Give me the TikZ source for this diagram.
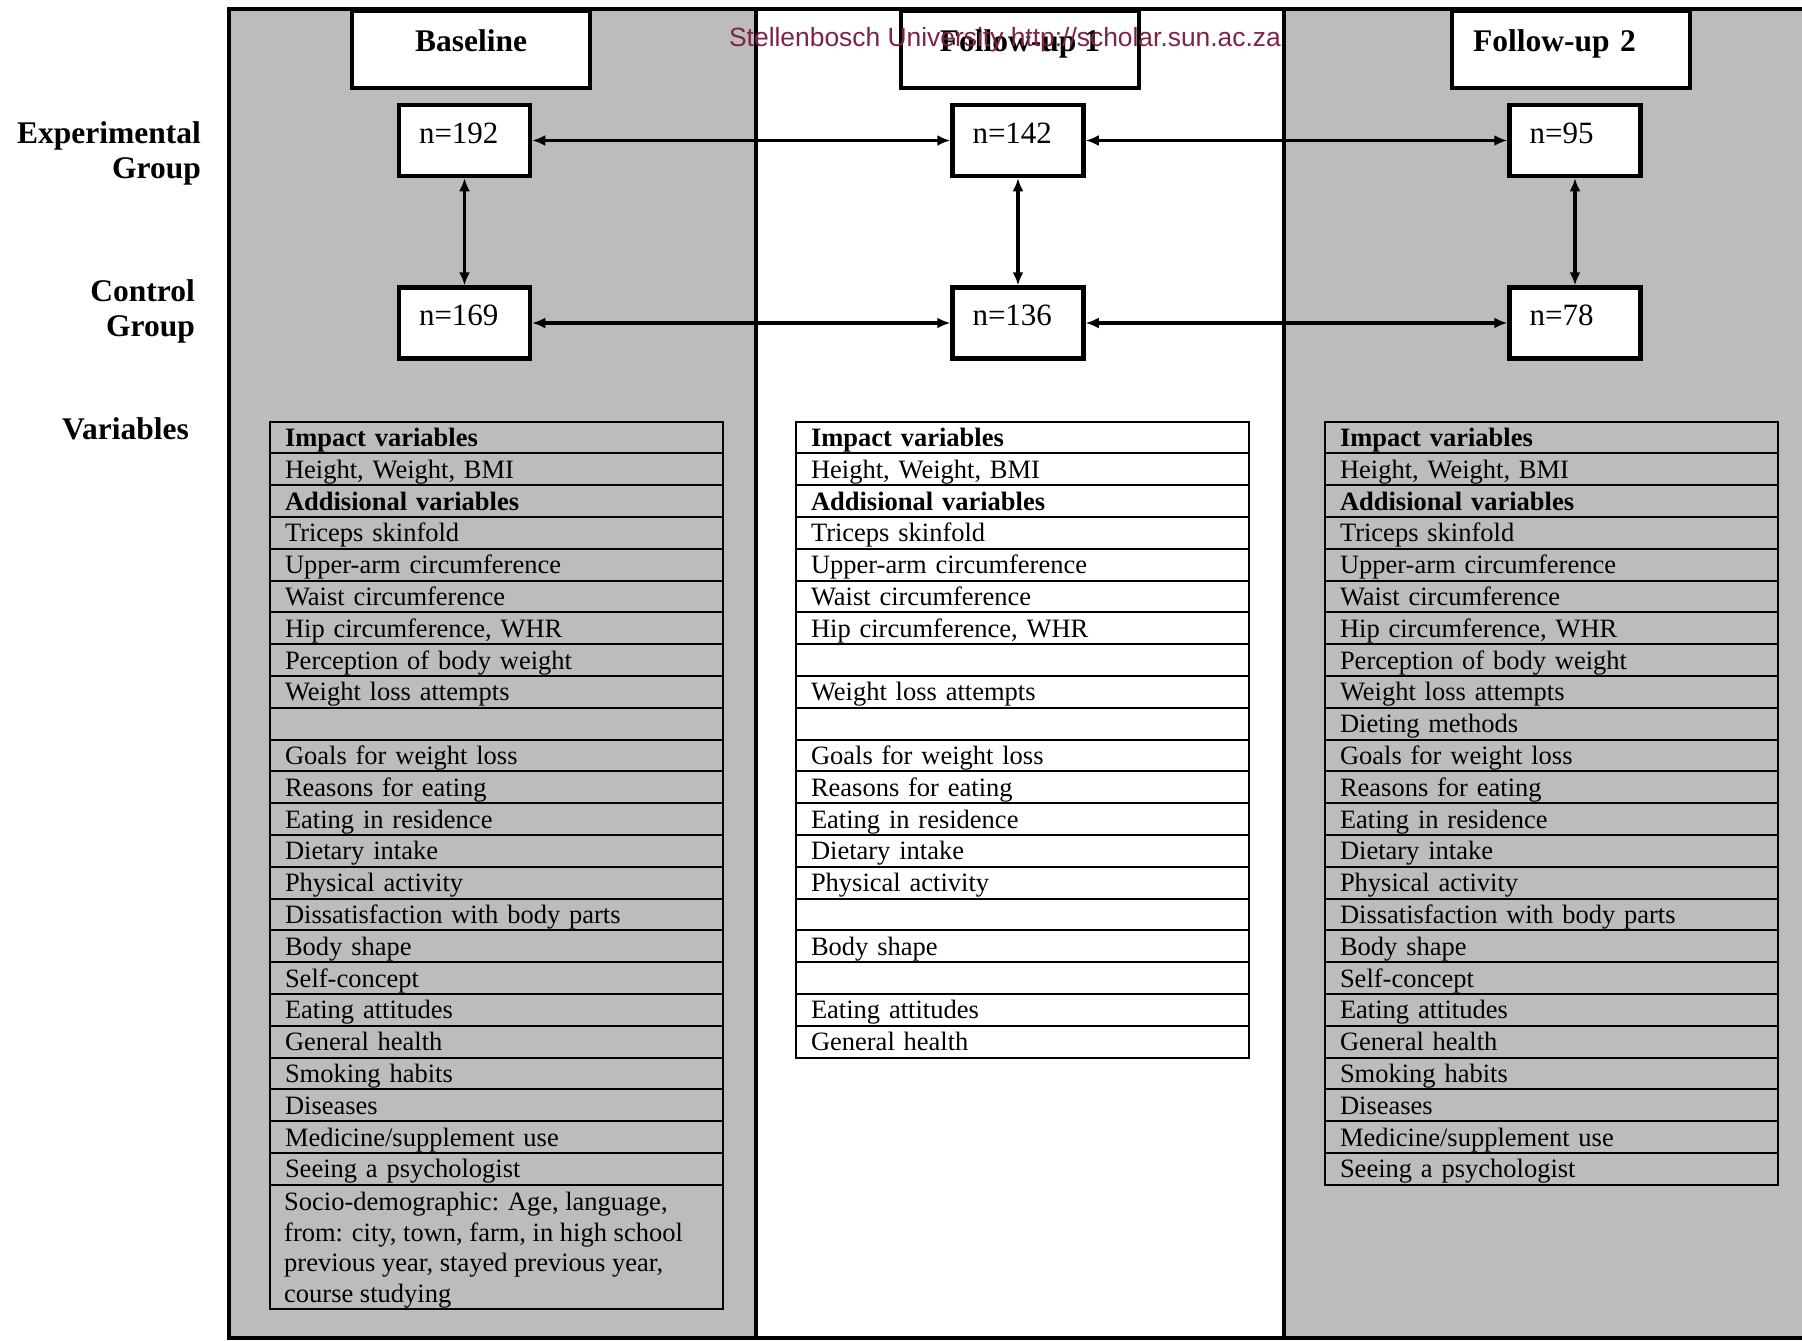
\documentclass[tikz,border=0pt]{standalone}
\usepackage{fontspec}
\setmainfont{Liberation Serif}
\newfontfamily\wmfont{Liberation Sans}
\usetikzlibrary{arrows.meta}

\definecolor{panelgray}{RGB}{188,189,187}
\definecolor{wmred}{RGB}{125,35,70}

\newcommand\baselinelist{\textbf{Impact variables}, {Height, Weight, BMI}, \textbf{Addisional variables},
  Triceps skinfold, Upper-arm circumference, Waist circumference, {Hip circumference, WHR},
  Perception of body weight, Weight loss attempts, {}, Goals for weight loss, Reasons for eating,
  Eating in residence, Dietary intake, Physical activity, Dissatisfaction with body parts,
  Body shape, Self-concept, Eating attitudes, General health, Smoking habits, Diseases,
  Medicine/supplement use, Seeing a psychologist}
\newcommand\followonelist{\textbf{Impact variables}, {Height, Weight, BMI}, \textbf{Addisional variables},
  Triceps skinfold, Upper-arm circumference, Waist circumference, {Hip circumference, WHR},
  {}, Weight loss attempts, {}, Goals for weight loss, Reasons for eating,
  Eating in residence, Dietary intake, Physical activity, {},
  Body shape, {}, Eating attitudes, General health}
\newcommand\followtwolist{\textbf{Impact variables}, {Height, Weight, BMI}, \textbf{Addisional variables},
  Triceps skinfold, Upper-arm circumference, Waist circumference, {Hip circumference, WHR},
  Perception of body weight, Weight loss attempts, Dieting methods, Goals for weight loss, Reasons for eating,
  Eating in residence, Dietary intake, Physical activity, Dissatisfaction with body parts,
  Body shape, Self-concept, Eating attitudes, General health, Smoking habits, Diseases,
  Medicine/supplement use, Seeing a psychologist}

\begin{document}
\begin{tikzpicture}[x=1pt,y=-1pt,
  panel/.style={fill=panelgray},
  frame/.style={line width=4pt},
  hdr/.style={draw,line width=4pt,fill=white,minimum width=238pt,minimum height=77pt,
    font=\fontsize{31.5}{35}\selectfont\bfseries,text height=20pt,text depth=17pt},
  nbox/.style={draw,line width=4.5pt,fill=white,minimum width=131pt,minimum height=71pt,
    inner xsep=20pt,text width=91pt,align=left,font=\fontsize{31}{35}\selectfont,
    text height=20pt,text depth=15pt},
  side/.style={inner sep=0pt,align=right,font=\fontsize{31.5}{35}\selectfont\bfseries},
  cell/.style={draw,line width=2pt,anchor=north west,minimum height=31.8pt,inner xsep=15pt,
    inner ysep=0pt,text width=423pt,align=left,font=\fontsize{26.5}{31}\selectfont,
    text height=21pt,text depth=2.8pt},
  link/.style={{Latex[length=13pt,width=11pt]}-{Latex[length=13pt,width=11pt]},line width=3.5pt}]

\useasboundingbox (0,0) rectangle (1802,1341);

\fill[panel] (229,9) rectangle (756,1338);
\fill[panel] (1284,9) rectangle (1802,1338);
\draw[frame] (1802,9) -- (229,9) -- (229,1338) -- (1802,1338);
\draw[frame] (756,9) -- (756,1338);
\draw[frame] (1284,9) -- (1284,1338);

\node[hdr] (baseline) at (471,49.5) {Baseline};
\node[hdr] (followone) at (1020,49.5) {Follow-up 1};
\node[hdr,inner xsep=21pt,text width=196pt,align=left] (followtwo) at (1571,49.5) {Follow-up 2};

\node[side,anchor=north east] (exp) at (201,121) {Experimental\\Group};
\node[side,anchor=north east] (ctrl) at (195,279) {Control\\Group};
\node[side,anchor=base east] (vars) at (189,439) {Variables};

\node[nbox] (e192) at (464.5,140.5) {n=192};
\node[nbox] (e142) at (1018,140.5) {n=142};
\node[nbox] (e95) at (1575,140.5) {n=95};
\node[nbox] (c169) at (464.5,323) {n=169};
\node[nbox] (c136) at (1018,323) {n=136};
\node[nbox] (c78) at (1575,323) {n=78};

\draw[link] (e192) -- (e142);
\draw[link] (e142) -- (e95);
\draw[link] (c169) -- (c136);
\draw[link] (c136) -- (c78);
\draw[link] (e192) -- (c169);
\draw[link] (e142) -- (c136);
\draw[link] (e95) -- (c78);

\foreach \txt [count=\i] in \baselinelist
  \node[cell] (base-\i) at (269,{420.5+(\i-1)*31.8}) {\txt};
\node[draw,line width=2pt,anchor=north west,minimum width=453pt,minimum height=124pt,inner sep=0pt]
  (base-socio) at (269,1183.7) {};
\node[anchor=north west,inner sep=0pt,align=left,font=\fontsize{26.5}{30.5}\selectfont]
  (socio) at (284,1192) {Socio-demographic: Age, language,\\from: city, town, farm, in high school\\previous year, stayed previous year,\\course studying};

\foreach \txt [count=\i] in \followonelist
  \node[cell] (fone-\i) at (795,{420.5+(\i-1)*31.8}) {\txt};

\foreach \txt [count=\i] in \followtwolist
  \node[cell] (ftwo-\i) at (1324,{420.5+(\i-1)*31.8}) {\txt};

\node[anchor=base,inner sep=0pt,text=wmred,font=\fontsize{26.4}{30}\wmfont] (watermark) at (1005,46)
  {Stellenbosch University http://scholar.sun.ac.za};

\end{tikzpicture}
\end{document}
